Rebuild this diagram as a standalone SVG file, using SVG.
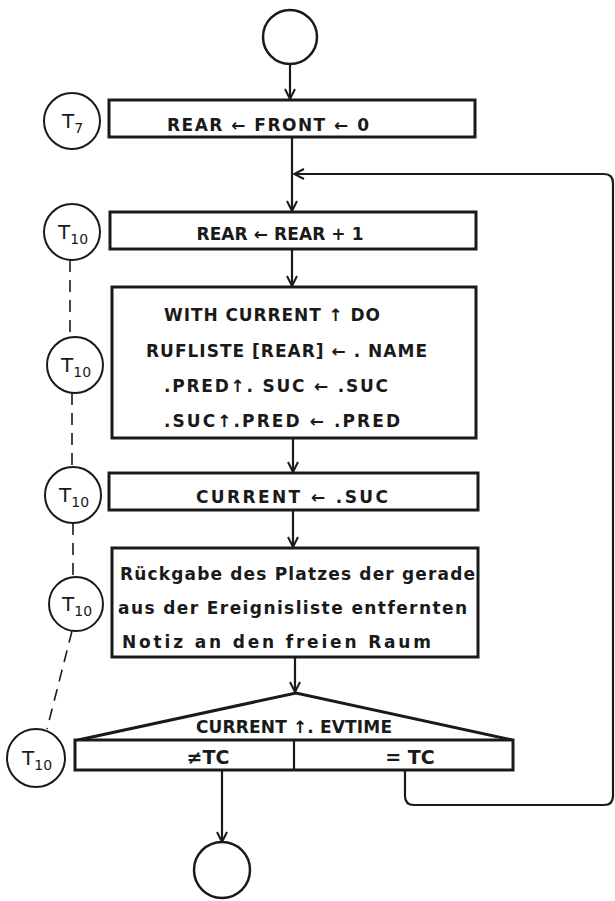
<svg xmlns="http://www.w3.org/2000/svg" width="615" height="901" viewBox="0 0 615 901">
  <defs>
    <marker id="arrow" viewBox="0 0 12 12" refX="11" refY="6" markerWidth="12" markerHeight="12" markerUnits="userSpaceOnUse" orient="auto">
      <path d="M1,1 L11,6 L1,11" fill="none" stroke="#1a1a1a" stroke-width="2"/>
    </marker>
    <style>
      .box { fill: #ffffff; stroke: #1a1a1a; stroke-width: 3; }
      .circ { fill: #ffffff; stroke: #1a1a1a; stroke-width: 2.5; }
      .tcirc { fill: #ffffff; stroke: #1a1a1a; stroke-width: 2; }
      .line { fill: none; stroke: #1a1a1a; stroke-width: 2.2; }
      .dash { fill: none; stroke: #1a1a1a; stroke-width: 1.6; stroke-dasharray: 12 8; }
      .lbl { font-family: "DejaVu Sans", "Liberation Sans", sans-serif; font-size: 17px; font-weight: bold; fill: #1a1a1a; }
      .hand { font-family: "DejaVu Sans", "Liberation Sans", sans-serif; font-size: 17px; font-weight: bold; fill: #1a1a1a; }
      .cond { font-family: "DejaVu Sans", "Liberation Sans", sans-serif; font-size: 19px; font-weight: bold; fill: #1a1a1a; }
      .tl { font-family: "DejaVu Sans", "Liberation Sans", sans-serif; font-size: 20px; fill: #1a1a1a; }
      .ts { font-family: "DejaVu Sans", "Liberation Sans", sans-serif; font-size: 14px; fill: #1a1a1a; }
    </style>
  </defs>
  <rect width="615" height="901" fill="#ffffff"/>

  <!-- connectors -->
  <g id="connectors">
    <line class="line" x1="290" y1="64" x2="290" y2="99" marker-end="url(#arrow)"/>
    <line class="line" x1="292" y1="137" x2="292" y2="211" marker-end="url(#arrow)"/>
    <line class="line" x1="292" y1="249" x2="292" y2="286" marker-end="url(#arrow)"/>
    <line class="line" x1="293" y1="438" x2="293" y2="472" marker-end="url(#arrow)"/>
    <line class="line" x1="293" y1="510" x2="293" y2="547" marker-end="url(#arrow)"/>
    <line class="line" x1="295" y1="657" x2="295" y2="692" marker-end="url(#arrow)"/>
    <line class="line" x1="222" y1="770" x2="222" y2="842" marker-end="url(#arrow)"/>
    <!-- loop back for "= TC" -->
    <path class="line" d="M405,770 L405,796 Q405,805 414,805 L604,805 Q613,805 613,796 L613,183 Q613,174 604,174 L294,174" marker-end="url(#arrow)"/>
    <!-- dashed association of the T labels -->
    <path class="dash" d="M70,260 L70,337 M72,393 L72,467 M73,523 L73,577"/>
    <path class="dash" d="M72,631 L47,729"/>
  </g>

  <!-- start / end -->
  <g id="start"><ellipse class="circ" cx="290" cy="37" rx="27" ry="27"/></g>
  <g id="end"><ellipse class="circ" cx="222" cy="870" rx="28" ry="28"/></g>

  <g id="init">
    <rect class="box" x="109" y="100" width="366" height="37"/>
    <text class="lbl" x="268" y="131" text-anchor="middle" textLength="202">REAR ← FRONT ← 0</text>
  </g>

  <g id="incr">
    <rect class="box" x="110" y="212" width="366" height="37"/>
    <text class="lbl" x="280" y="240" text-anchor="middle" textLength="167">REAR ← REAR + 1</text>
  </g>

  <g id="unlink">
    <rect class="box" x="112" y="287" width="364" height="151"/>
    <text class="lbl" x="164" y="321" textLength="216">WITH CURRENT ↑ DO</text>
    <text class="lbl" x="146" y="357" textLength="281">RUFLISTE [REAR] ← . NAME</text>
    <text class="lbl" x="164" y="392" textLength="224">.PRED↑. SUC ← .SUC</text>
    <text class="lbl" x="164" y="427" textLength="236">.SUC↑.PRED ← .PRED</text>
  </g>

  <g id="advance">
    <rect class="box" x="109" y="473" width="369" height="37"/>
    <text class="lbl" x="196" y="503" textLength="192">CURRENT ← .SUC</text>
  </g>

  <g id="release">
    <rect class="box" x="112" y="548" width="366" height="109"/>
    <text class="hand" x="120" y="580" textLength="355">Rückgabe des Platzes der gerade</text>
    <text class="hand" x="118" y="614" textLength="349">aus der Ereignisliste entfernten</text>
    <text class="hand" x="122" y="648" textLength="309">Notiz an den freien Raum</text>
  </g>

  <g id="decision">
    <path class="box" d="M78,740 L296,693 L512,740"/>
    <rect class="box" x="75" y="740" width="438" height="30"/>
    <line class="line" x1="294" y1="740" x2="294" y2="770"/>
    <text class="lbl" x="294" y="733" text-anchor="middle" textLength="196">CURRENT ↑. EVTIME</text>
    <text class="cond" x="208" y="764" text-anchor="middle">≠TC</text>
    <text class="cond" x="410" y="764" text-anchor="middle">= TC</text>
  </g>

  <!-- time marks -->
  <g id="t7">
    <circle class="tcirc" cx="72" cy="121" r="28"/>
    <text x="62" y="128"><tspan class="tl">T</tspan><tspan class="ts" dy="5">7</tspan></text>
  </g>
  <g id="t10a">
    <circle class="tcirc" cx="72" cy="232" r="28"/>
    <text x="58" y="239"><tspan class="tl">T</tspan><tspan class="ts" dy="5">10</tspan></text>
  </g>
  <g id="t10b">
    <circle class="tcirc" cx="75" cy="365" r="28"/>
    <text x="61" y="372"><tspan class="tl">T</tspan><tspan class="ts" dy="5">10</tspan></text>
  </g>
  <g id="t10c">
    <circle class="tcirc" cx="73" cy="495" r="28"/>
    <text x="59" y="502"><tspan class="tl">T</tspan><tspan class="ts" dy="5">10</tspan></text>
  </g>
  <g id="t10d">
    <circle class="tcirc" cx="76" cy="604" r="27"/>
    <text x="62" y="611"><tspan class="tl">T</tspan><tspan class="ts" dy="5">10</tspan></text>
  </g>
  <g id="t10e">
    <circle class="tcirc" cx="36" cy="758" r="29"/>
    <text x="22" y="765"><tspan class="tl">T</tspan><tspan class="ts" dy="5">10</tspan></text>
  </g>
</svg>
